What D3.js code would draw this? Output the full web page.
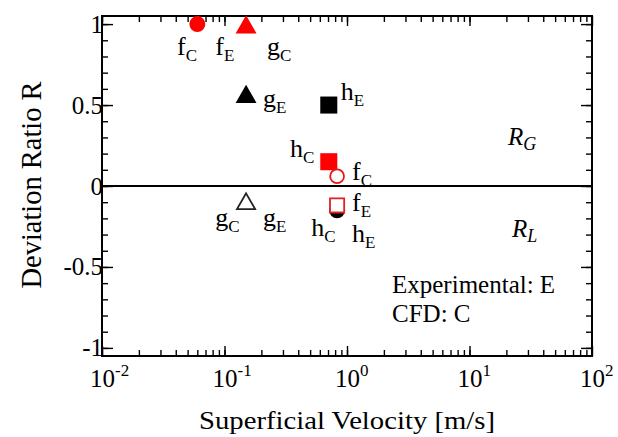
<!DOCTYPE html>
<html>
<head>
<meta charset="utf-8">
<script src="https://cdn.jsdelivr.net/npm/d3@7"></script>
<style>
  body { margin: 0; background: #fff; }
  text { font-family: "Liberation Serif", "Times New Roman", serif; fill: #000; }
</style>
</head>
<body>
<svg id="chart" width="618" height="437"></svg>
<script>
// data
const pointVelocity = [0.06, 0.15, 0.15, 0.71, 0.71, 0.83, 0.15, 0.83, 0.83];
const pointRatio    = [1.0, 0.98, 0.55, 0.50, 0.15, 0.06, -0.11, -0.15, -0.12];
const pointShape    = ["circle", "triangle", "triangle", "square", "square", "circle", "triangle", "circle", "square"];
const pointColor    = ["#f00", "#f00", "#000", "#000", "#f00", "#e11", "#222", "#000", "#d22"];
const pointFilled   = [true, true, true, true, true, false, false, true, false];

const labelMain = ["f", "f", "g", "g", "h", "h", "f", "g", "g", "f", "h", "h"];
const labelSub  = ["C", "E", "C", "E", "E", "C", "C", "C", "E", "E", "C", "E"];
const labelVelocity = [0.041, 0.084, 0.222, 0.206, 0.89, 0.343, 1.10, 0.084, 0.206, 1.10, 0.51, 1.10];
const labelRatio    = [0.81, 0.81, 0.81, 0.49, 0.53, 0.18, 0.04, -0.25, -0.25, -0.155, -0.31, -0.345];

const yMajor = [-1, -0.5, 0, 0.5, 1];
const yMinor = d3.range(-10, 11).map(d => d / 10);
const xMajor = [0.01, 0.1, 1, 10, 100];
const xExp   = ["-2", "-1", "0", "1", "2"];

const svg = d3.select("#chart");
const plotLeft = 102, plotRight = 592, plotTop = 16, plotBottom = 356;

const x = d3.scaleLog().domain([0.01, 100]).range([plotLeft, plotRight]);
const y = d3.scaleLinear().domain([-1.05, 1.05]).range([plotBottom, plotTop]);

const xMinor = [];
for (let e = -2; e < 2; e++) for (let m = 1; m < 10; m++) xMinor.push(m * Math.pow(10, e));

function styleAxis(g) {
    g.select(".domain").remove();
    g.selectAll(".tick line").attr("stroke", "#000").attr("stroke-width", 1.4);
}

// ticks, all pointing inward
svg.append("g").attr("transform", `translate(0,${plotBottom})`)
    .call(d3.axisBottom(x).tickValues(xMinor).tickSize(-6).tickSizeOuter(0).tickFormat("")).call(styleAxis);
svg.append("g").attr("transform", `translate(0,${plotTop})`)
    .call(d3.axisTop(x).tickValues(xMinor).tickSize(-6).tickSizeOuter(0).tickFormat("")).call(styleAxis);
const xAxis = svg.append("g").attr("transform", `translate(0,${plotBottom})`)
    .call(d3.axisBottom(x).tickValues(xMajor).tickSize(-10).tickSizeOuter(0).tickFormat("")).call(styleAxis);
svg.append("g").attr("transform", `translate(0,${plotTop})`)
    .call(d3.axisTop(x).tickValues(xMajor).tickSize(-10).tickSizeOuter(0).tickFormat("")).call(styleAxis);

svg.append("g").attr("transform", `translate(${plotLeft},0)`)
    .call(d3.axisLeft(y).tickValues(yMinor).tickSize(-6).tickSizeOuter(0).tickFormat("")).call(styleAxis);
svg.append("g").attr("transform", `translate(${plotRight},0)`)
    .call(d3.axisRight(y).tickValues(yMinor).tickSize(-6).tickSizeOuter(0).tickFormat("")).call(styleAxis);
svg.append("g").attr("transform", `translate(${plotLeft},0)`)
    .call(d3.axisLeft(y).tickValues(yMajor).tickSize(-11).tickSizeOuter(0).tickPadding(-1).tickFormat(d => String(d)))
    .call(styleAxis)
    .call(g => g.selectAll(".tick text").attr("font-family", "Liberation Serif").attr("font-size", 25).attr("fill", "#000"));
svg.append("g").attr("transform", `translate(${plotRight},0)`)
    .call(d3.axisRight(y).tickValues(yMajor).tickSize(-11).tickSizeOuter(0).tickFormat("")).call(styleAxis);

// x tick labels 10^n
xAxis.selectAll(".tick").each(function(d, i) {
    const t = d3.select(this).append("text")
        .attr("x", 0).attr("y", 31)
        .attr("font-size", 25)
        .attr("text-anchor", "start")
        .attr("dx", -12.5);
    t.append("tspan").text("10");
    t.append("tspan").attr("font-size", 17).attr("dy", -11).text(xExp[i]);
});

// frame and zero line
svg.append("rect")
    .attr("x", plotLeft).attr("y", plotTop).attr("width", plotRight - plotLeft).attr("height", plotBottom - plotTop)
    .attr("fill", "none").attr("stroke", "#000").attr("stroke-width", 2);
svg.append("line")
    .attr("x1", plotLeft).attr("x2", plotRight).attr("y1", y(0)).attr("y2", y(0))
    .attr("stroke", "#000").attr("stroke-width", 2.2);

// markers
const shapeType = { circle: d3.symbolCircle, triangle: d3.symbolTriangle, square: d3.symbolSquare };
const shapeSize = { circle: 200, triangle: 190, square: 290 };
const points = pointVelocity.map((v, i) => ({
    v, r: pointRatio[i], shape: pointShape[i], color: pointColor[i], filled: pointFilled[i]
}));
svg.append("g").selectAll("path").data(points).enter().append("path")
    .attr("transform", d => `translate(${x(d.v)},${y(d.r)})`)
    .attr("d", d => d3.symbol().type(shapeType[d.shape])
        .size(d.filled ? shapeSize[d.shape] : (d.shape === "square" ? 200 : shapeSize[d.shape] * 0.75))())
    .attr("fill", d => d.filled ? d.color : "#fff")
    .attr("stroke", d => d.color)
    .attr("stroke-width", d => d.filled ? 0 : 1.8);

// point labels
labelMain.forEach((m, i) => {
    const t = svg.append("text")
        .attr("x", x(labelVelocity[i])).attr("y", y(labelRatio[i]))
        .attr("font-size", 26);
    t.append("tspan").text(m);
    t.append("tspan").attr("font-size", 17).attr("dy", 6).text(labelSub[i]);
});

// region labels
const rg = svg.append("text").attr("x", 508).attr("y", 145).attr("font-size", 25).attr("font-style", "italic");
rg.append("tspan").text("R");
rg.append("tspan").attr("font-size", 18).attr("dy", 5).text("G");
const rl = svg.append("text").attr("x", 512).attr("y", 237).attr("font-size", 25).attr("font-style", "italic");
rl.append("tspan").text("R");
rl.append("tspan").attr("font-size", 18).attr("dy", 5).text("L");

svg.append("text").attr("x", 392).attr("y", 293).attr("font-size", 25).text("Experimental: E");
svg.append("text").attr("x", 392).attr("y", 322).attr("font-size", 25).text("CFD: C");

// axis titles
svg.append("text")
    .attr("x", (plotLeft + plotRight) / 2).attr("y", 429)
    .attr("text-anchor", "middle").attr("font-size", 26)
    .attr("textLength", 296).attr("lengthAdjust", "spacingAndGlyphs")
    .text("Superficial Velocity [m/s]");
svg.append("text")
    .attr("transform", "translate(41,185) rotate(-90)")
    .attr("text-anchor", "middle").attr("font-size", 29)
    .attr("textLength", 207).attr("lengthAdjust", "spacingAndGlyphs")
    .text("Deviation Ratio R");
</script>
</body>
</html>
